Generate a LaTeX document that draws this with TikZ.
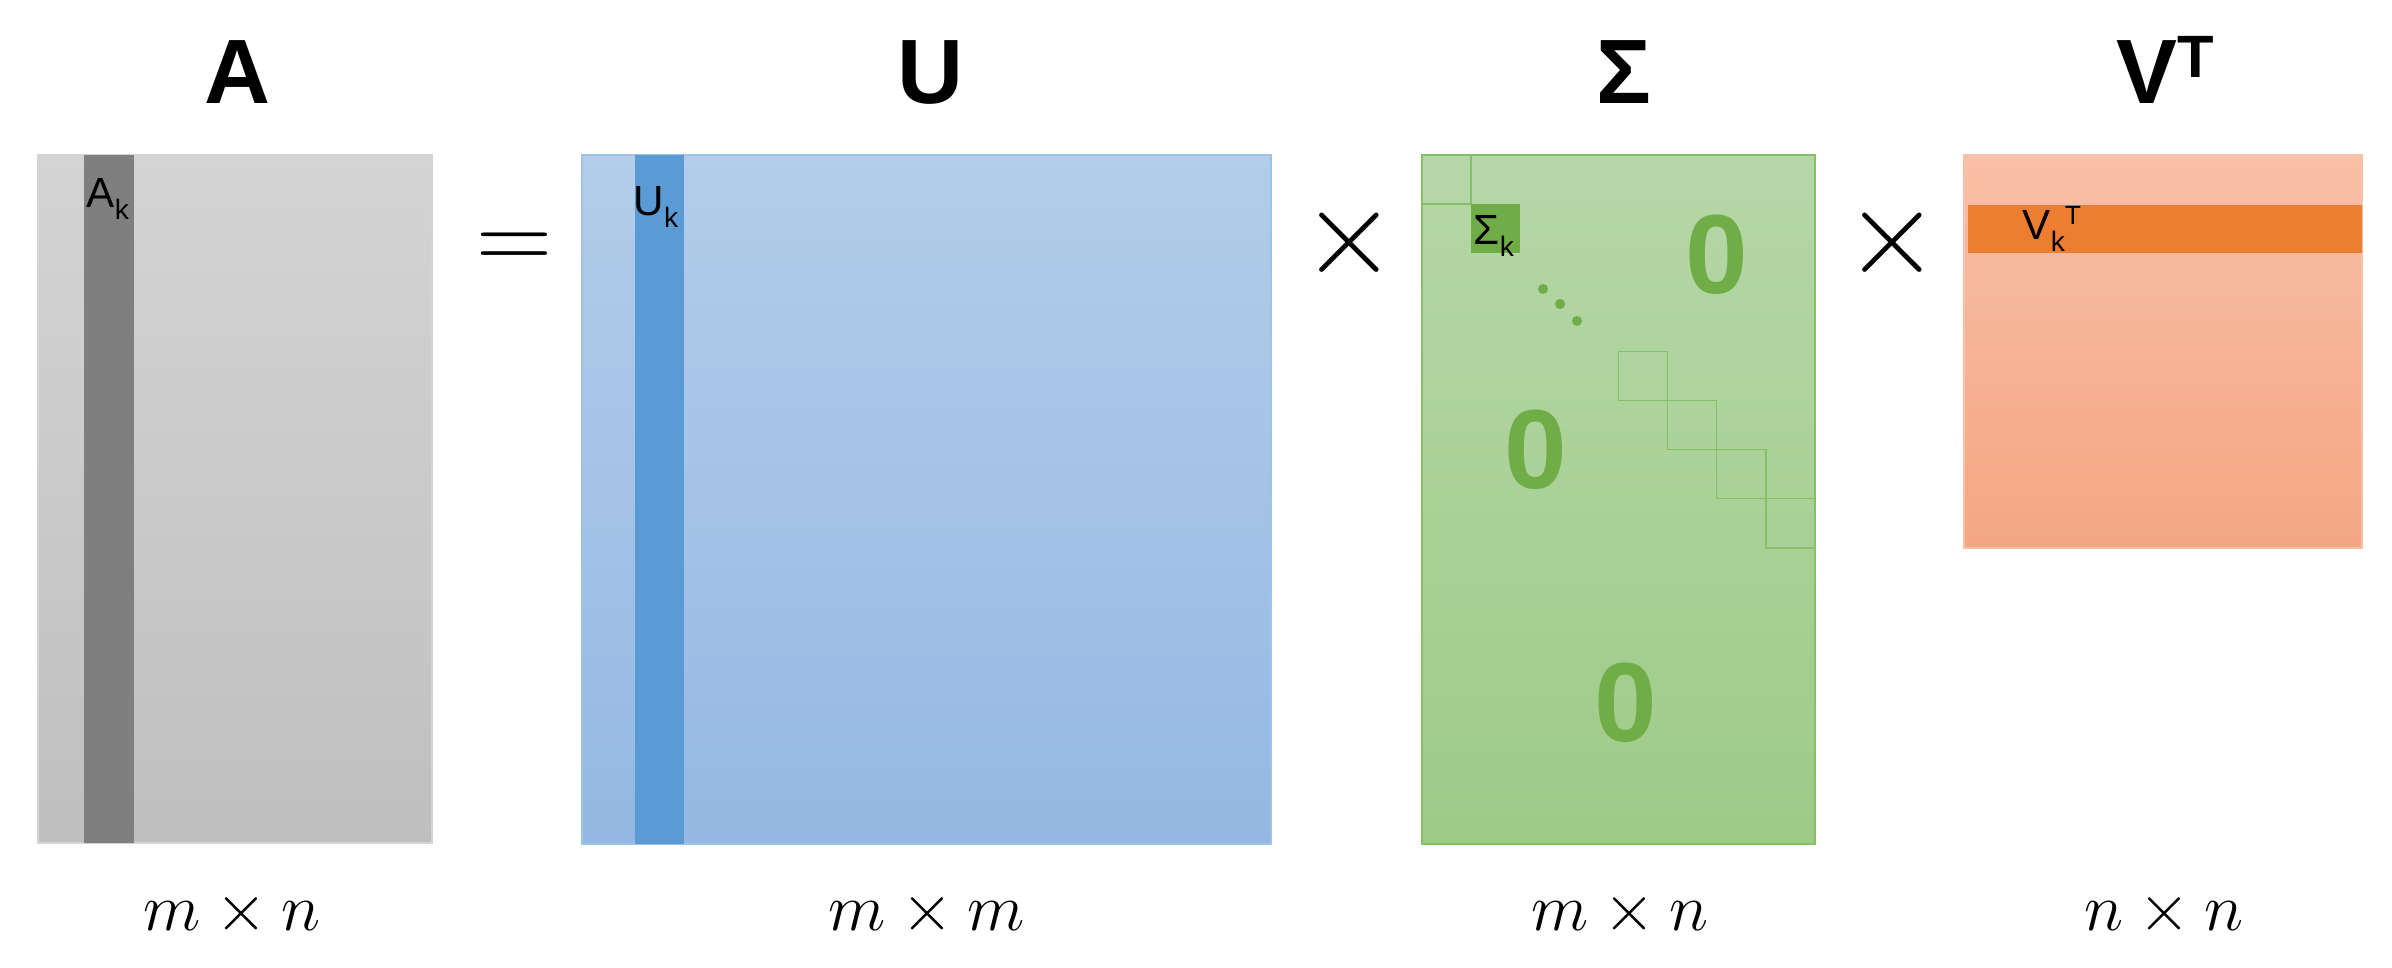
\RequirePackage{fix-cm}
\documentclass[tikz,border=0pt]{standalone}
\usepackage{fontspec}
\setmainfont{Liberation Sans}
\definecolor{greytop}{HTML}{D4D4D4}
\definecolor{greybot}{HTML}{BFBFBF}
\definecolor{greydark}{HTML}{7F7F7F}
\definecolor{bluetop}{HTML}{B3CDEA}
\definecolor{bluebot}{HTML}{94B8E3}
\definecolor{bluedark}{HTML}{5B9BD5}
\definecolor{bluerim}{HTML}{9DC3E6}
\definecolor{greentop}{HTML}{B6D7A8}
\definecolor{greenbot}{HTML}{9ECB88}
\definecolor{greendark}{HTML}{70AD47}
\definecolor{greenrim}{HTML}{86BF66}
\definecolor{orangetop}{HTML}{F8C0A7}
\definecolor{orangebot}{HTML}{F4A683}
\definecolor{orangedark}{HTML}{ED7D31}
\newcommand{\ksub}[1]{#1\raisebox{-0.12cm}{\fontsize{8}{8}\selectfont k}}
\newcommand{\cell}{49.1}

\begin{document}
\begin{tikzpicture}[
  x=0.01cm,y=-0.01cm,
  every node/.style={inner sep=0pt},
  title/.style={anchor=base,font=\fontsize{26}{30}\selectfont\bfseries},
  dims/.style={anchor=base,font=\fontsize{19}{24}\selectfont},
  lbl/.style={anchor=base west,font=\fontsize{12}{14}\selectfont},
  zero/.style={font=\fontsize{32}{36}\selectfont\bfseries,text=greendark},
  op/.style={anchor=base,font=\fontsize{30}{34}\selectfont},
  rim/.style={line width=0.5pt},
  diag/.style={draw=greenrim,line width=0.45pt}
]
\useasboundingbox (0,0) rectangle (2392,968);

% A = U x Sigma x V^T
\shade[top color=greytop,bottom color=greybot,draw=greytop,rim] (38,155) rectangle (432,843);
\fill[greydark] (84,155) rectangle (134,843);
\shade[top color=bluetop,bottom color=bluebot,draw=bluerim,rim] (582,155) rectangle (1271,844);
\fill[bluedark] (635,155) rectangle (684,844);
\shade[top color=greentop,bottom color=greenbot,draw=greenrim,rim] (1422,155) rectangle (1815,844);
\shade[top color=orangetop,bottom color=orangebot,draw=orangetop,rim] (1964,155) rectangle (2362,548);
\fill[orangedark] (1968,205) rectangle (2362,253);

% diagonal of Sigma
\foreach \i in {0,4,5,6,7}
  \draw[diag] ({1422+\i*\cell},{155+\i*\cell}) rectangle +(\cell,\cell);
\fill[greendark] ({1422+\cell},{155+\cell}) rectangle +(\cell,\cell);
\foreach \p in {(1543,289),(1560,304),(1577,321)}
  \fill[greendark] \p circle[radius=0.05cm];

\node[title] (tA) at (238,104) {A};
\node[title] (tU) at (930,104) {U};
\node[title] (tS) at (1624,104) {Σ};
\node[title] (tV) at (2165,104) {V\raisebox{0.26cm}{\fontsize{17}{17}\selectfont T}};

\node[lbl] (lA) at (86,208) {\ksub{A}};
\node[lbl] (lU) at (633,216) {\ksub{U}};
\node[lbl] (lS) at (1473,245) {\ksub{Σ}};
\node[lbl] (lV) at (2022,240) {\ksub{V}\raisebox{0.15cm}{\fontsize{7.5}{8}\selectfont T}};

\node[zero] (z1) at (1717,255) {0};
\node[zero] (z2) at (1536,450) {0};
\node[zero] (z3) at (1626,703) {0};

\node[op] (eq) at (514,271) {$=$};
\node[op,font=\fontsize{35}{38}\selectfont] (x1) at (1349,274) {$\times$};
\node[op,font=\fontsize{35}{38}\selectfont] (x2) at (1892,274) {$\times$};

\node[dims] (dA) at (232,930) {$m\times n$};
\node[dims] (dU) at (927,930) {$m\times m$};
\node[dims] (dS) at (1620,930) {$m\times n$};
\node[dims] (dV) at (2164,930) {$n\times n$};
\end{tikzpicture}
\end{document}
